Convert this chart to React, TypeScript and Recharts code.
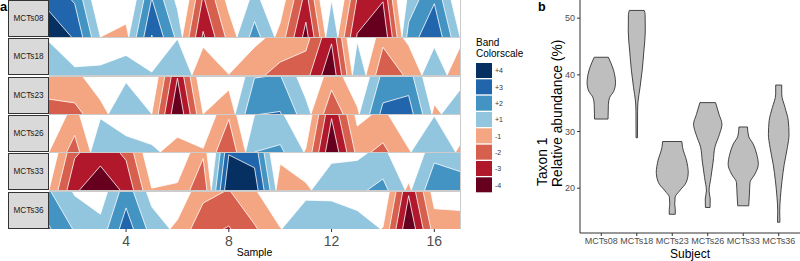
import React from 'react';
import { ComposedChart, Area, XAxis, YAxis, ReferenceLine } from 'recharts';

const FONT = '"Liberation Sans", Arial, Helvetica, sans-serif';

// ---- Panel a: horizon plot data (band units, + = blue, - = red) ----
const samples = [1, 2, 3, 4, 5, 6, 7, 8, 9, 10, 11, 12, 13, 14, 15, 16, 17];
const subjects = ['MCTs08', 'MCTs18', 'MCTs23', 'MCTs26', 'MCTs33', 'MCTs36'];
const mcts08 = [3.7, 2.9, 0, -0.35, 3.05, 0.75, -3.15, -0.66, 1.42, -0.38, -3.4, 1.0, -3.1, -3.95, 1.4, 2.9, 0];
const mcts18 = [0.9, 0.22, 0.27, 0.53, 0.08, 0.97, -0.75, -0.02, -0.75, -1.35, -1.65, -3.84, 0.9, -1.75, -0.8, 0.75, -0.75];
const mcts23 = [-1.4, -1.3, -0.38, 0.85, 0, -3.97, 0, -0.65, 1.97, 2.07, 0.41, -1.65, -0.2, 2.3, 2.5, -0.25, 0.65];
const mcts26 = [0, -1.45, 0.9, 0.44, 0.2, -0.4, -0.1, -1.88, 1.0, 1.2, -0.1, -3.9, -0.7, -1.25, -0.1, 0.97, -0.2];
const mcts33 = [0, -2.85, -3.65, -2.8, -0.05, -0.2, -1.85, 3.95, 3.6, -0.7, -0.2, 0.72, 0.8, 1.3, -0.2, 1.73, 1.5];
const mcts36 = [2.1, 0.9, 0.4, 2.57, 0.6, -0.25, -1.7, -2.08, -1.13, -0.05, 0.78, 0.76, 0.5, -0.05, -3.9, -0.55, -0.5];
const horizonRows = [mcts08, mcts18, mcts23, mcts26, mcts33, mcts36];
const sampleTicks = [4, 8, 12, 16];
const bandIdx = [0, 1, 2, 3];
const posColors = ['#92C5DE', '#4393C3', '#2166AC', '#053061'];
const negColors = ['#F4A582', '#D6604D', '#B2182B', '#67001F'];
const legendLabels = ['+4', '+3', '+2', '+1', '-1', '-2', '-3', '-4'];
const legendColors = ['#053061', '#2166AC', '#4393C3', '#92C5DE', '#F4A582', '#D6604D', '#B2182B', '#67001F'];

// ---- Panel b: violin outlines (abundance %, half width in category units) ----
const violin08 = [
  { v: 32.2, w: 0.19 }, { v: 34.8, w: 0.2 }, { v: 36.0, w: 0.235 }, { v: 37.1, w: 0.35 },
  { v: 38.6, w: 0.4 }, { v: 40.7, w: 0.35 }, { v: 42.1, w: 0.27 }, { v: 43.1, w: 0.2 },
];
const violin18 = [
  { v: 28.9, w: 0.02 }, { v: 33.6, w: 0.023 }, { v: 35.4, w: 0.037 }, { v: 37.7, w: 0.09 },
  { v: 40.7, w: 0.15 }, { v: 44.2, w: 0.2 }, { v: 47.7, w: 0.24 }, { v: 50.65, w: 0.235 }, { v: 51.36, w: 0.21 },
];
const violin23 = [
  { v: 15.4, w: 0.085 }, { v: 16.3, w: 0.085 }, { v: 17.2, w: 0.07 }, { v: 18.4, w: 0.08 },
  { v: 19.5, w: 0.2 }, { v: 21.0, w: 0.39 }, { v: 22.8, w: 0.45 }, { v: 24.8, w: 0.405 },
  { v: 27.2, w: 0.29 }, { v: 28.24, w: 0.27 },
];
const violin26 = [
  { v: 16.6, w: 0.065 }, { v: 18.1, w: 0.07 }, { v: 19.5, w: 0.037 }, { v: 21.9, w: 0.09 },
  { v: 24.8, w: 0.155 }, { v: 27.2, w: 0.2 }, { v: 29.5, w: 0.33 }, { v: 31.3, w: 0.4 },
  { v: 33.0, w: 0.32 }, { v: 35.1, w: 0.22 },
];
const violin33 = [
  { v: 16.9, w: 0.155 }, { v: 19.0, w: 0.175 }, { v: 21.0, w: 0.19 }, { v: 22.5, w: 0.33 },
  { v: 24.2, w: 0.425 }, { v: 26.0, w: 0.38 }, { v: 27.8, w: 0.28 }, { v: 29.2, w: 0.15 }, { v: 30.8, w: 0.12 },
];
const violin36 = [
  { v: 14.0, w: 0.034 }, { v: 16.0, w: 0.028 }, { v: 18.4, w: 0.048 }, { v: 21.3, w: 0.093 },
  { v: 24.2, w: 0.155 }, { v: 27.2, w: 0.245 }, { v: 29.5, w: 0.29 }, { v: 31.9, w: 0.27 },
  { v: 34.2, w: 0.18 }, { v: 36.6, w: 0.085 }, { v: 38.2, w: 0.085 },
];
const violins = [violin08, violin18, violin23, violin26, violin33, violin36];
const subjectPos = [1, 2, 3, 4, 5, 6];
const abundanceTicks = [20, 30, 40, 50];

const ROW_TOPS = [0, 38, 77, 115, 153, 192];
const ROW_H = 37;

function HorizonRow({ values, showAxis }: { values: number[]; showAxis: boolean }) {
  const data = samples.map((s, i) => ({ s, v: values[i] }));
  const areas: React.ReactNode[] = [];
  bandIdx.forEach((k) => {
    areas.push(
      <Area
        key={'p' + k}
        dataKey={(d: any) => d.v - k}
        type="linear"
        baseValue={0}
        fill={posColors[k]}
        fillOpacity={1}
        stroke="#ffffff"
        strokeWidth={0.8}
        isAnimationActive={false}
        dot={false}
        activeDot={false}
      />
    );
    areas.push(
      <Area
        key={'n' + k}
        dataKey={(d: any) => -d.v - k}
        type="linear"
        baseValue={0}
        fill={negColors[k]}
        fillOpacity={1}
        stroke="#ffffff"
        strokeWidth={0.8}
        isAnimationActive={false}
        dot={false}
        activeDot={false}
      />
    );
  });
  return (
    <ComposedChart
      width={411}
      height={showAxis ? ROW_H + 32 : ROW_H}
      data={data}
      margin={{ top: 0, right: 0, bottom: 0, left: 0 }}
      style={{ background: '#ffffff' }}
    >
      <XAxis
        dataKey="s"
        type="number"
        domain={[1, 17]}
        ticks={sampleTicks}
        hide={!showAxis}
        height={32}
        axisLine={false}
        tickLine={{ stroke: '#333333' }}
        tickSize={3}
        tickMargin={4}
        tick={{ fontSize: 14, fill: '#4d4d4d', fontFamily: FONT }}
        allowDataOverflow
      />
      <YAxis type="number" domain={[0, 1]} allowDataOverflow hide />
      {areas}
    </ComposedChart>
  );
}

function ViolinChart() {
  return (
    <ComposedChart
      layout="vertical"
      width={270}
      height={261}
      margin={{ top: 0, right: 0, bottom: 0, left: 0 }}
    >
      <XAxis
        type="number"
        domain={[0.4, 6.6]}
        ticks={subjectPos}
        interval={0}
        tickFormatter={(t: number) => subjects[t - 1]}
        height={28}
        axisLine={{ stroke: '#333333' }}
        tickLine={{ stroke: '#333333' }}
        tickSize={3}
        tickMargin={2}
        tick={{ fontSize: 9, fill: '#4d4d4d', fontFamily: FONT }}
        allowDataOverflow
      />
      <YAxis
        type="number"
        dataKey="v"
        domain={[12.1, 53.2]}
        reversed
        ticks={abundanceTicks}
        width={50}
        axisLine={{ stroke: '#333333' }}
        tickLine={{ stroke: '#333333' }}
        tickSize={3}
        tickMargin={2}
        tick={{ fontSize: 9, fill: '#4d4d4d', fontFamily: FONT }}
        allowDataOverflow
      />
      {violins.map((vd, i) => (
        <Area
          key={'v' + i}
          data={vd}
          dataKey={(d: any) => [subjectPos[i] - d.w, subjectPos[i] + d.w]}
          type="monotone"
          fill="#BEBEBE"
          fillOpacity={1}
          stroke="#333333"
          strokeWidth={0.9}
          isAnimationActive={false}
          dot={false}
          activeDot={false}
        />
      ))}
      {violins.map((vd, i) => {
        const first = vd[0];
        const last = vd[vd.length - 1];
        return [
          <ReferenceLine
            key={'cb' + i}
            segment={[
              { x: subjectPos[i] - first.w, y: first.v },
              { x: subjectPos[i] + first.w, y: first.v },
            ]}
            stroke="#333333"
            strokeWidth={0.9}
          />,
          <ReferenceLine
            key={'ct' + i}
            segment={[
              { x: subjectPos[i] - last.w, y: last.v },
              { x: subjectPos[i] + last.w, y: last.v },
            ]}
            stroke="#333333"
            strokeWidth={0.9}
          />,
        ];
      })}
    </ComposedChart>
  );
}

export default function App() {
  return (
    <div
      style={{
        position: 'absolute',
        left: 0,
        top: 0,
        width: 800,
        height: 261,
        background: '#ffffff',
        fontFamily: FONT,
        overflow: 'hidden',
      }}
    >
      {/* row separators background */}
      <div
        style={{
          position: 'absolute',
          left: 49,
          top: 0,
          width: 412,
          height: 229,
          background: '#cccccc',
        }}
      />
      {horizonRows.map((vals, i) => (
        <div key={'row' + i} style={{ position: 'absolute', left: 49, top: ROW_TOPS[i] }}>
          <HorizonRow values={vals} showAxis={i === horizonRows.length - 1} />
        </div>
      ))}
      {subjects.map((s, i) => (
        <div
          key={'strip' + i}
          style={{
            position: 'absolute',
            left: 8,
            top: ROW_TOPS[i],
            width: 39,
            height: ROW_H - 2,
            background: '#D9D9D9',
            border: '1px solid #333333',
            display: 'flex',
            alignItems: 'center',
            justifyContent: 'center',
            fontSize: 8.2,
            color: '#1a1a1a',
          }}
        >
          {s}
        </div>
      ))}
      <div style={{ position: 'absolute', left: 530, top: 0 }}>
        <ViolinChart />
      </div>
      <svg
        width={800}
        height={261}
        style={{ position: 'absolute', left: 0, top: 0, pointerEvents: 'none' }}
        fontFamily={FONT}
      >
        <text x={0} y={11} fontSize={13} fontWeight="bold" fill="#000">a</text>
        <text x={538} y={11} fontSize={12.5} fontWeight="bold" fill="#000">b</text>
        <text x={254.5} y={256} fontSize={10.5} fill="#000" textAnchor="middle">Sample</text>
        <text x={690} y={258} fontSize={12} fill="#000" textAnchor="middle">Subject</text>
        <text x={476} y={46} fontSize={10} fill="#000">Band</text>
        <text x={476} y={57} fontSize={10} fill="#000">Colorscale</text>
        {legendLabels.map((lab, i) => (
          <g key={'lg' + i}>
            <rect x={476} y={63 + i * 16.33} width={16} height={15} fill={legendColors[i]} />
            <text x={495} y={70.7 + i * 16.33 + 2.5} fontSize={7} fill="#333">{lab}</text>
          </g>
        ))}
        <text transform="translate(547,186) rotate(-90)" fontSize={13.8} fill="#000">Taxon 1</text>
        <text transform="translate(562,187) rotate(-90)" fontSize={13.8} fill="#000">Relative abundance (%)</text>
      </svg>
    </div>
  );
}
